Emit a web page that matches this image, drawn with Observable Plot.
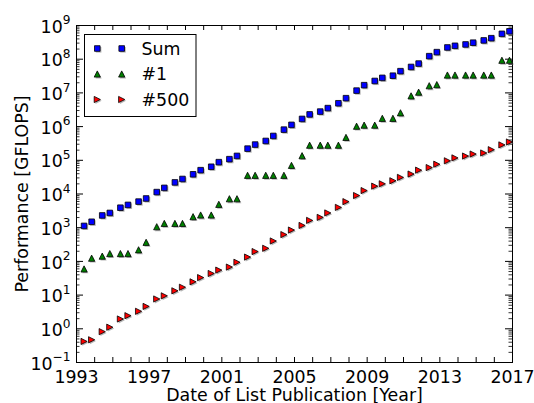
<!DOCTYPE html>
<html><head><meta charset="utf-8">
<script src="https://cdn.jsdelivr.net/npm/d3@7"></script>
<script src="https://cdn.jsdelivr.net/npm/@observablehq/plot@0.6"></script>
<style>body{margin:0;background:#fff} #chart svg{display:block}</style>
</head><body><div id="chart"></div>
<script>
// ---- data (GFLOPS), TOP500 lists June/November ----
const listDates = [
 "1993-06","1993-11","1994-06","1994-11","1995-06","1995-11","1996-06","1996-11",
 "1997-06","1997-11","1998-06","1998-11","1999-06","1999-11","2000-06","2000-11",
 "2001-06","2001-11","2002-06","2002-11","2003-06","2003-11","2004-06","2004-11",
 "2005-06","2005-11","2006-06","2006-11","2007-06","2007-11","2008-06","2008-11",
 "2009-06","2009-11","2010-06","2010-11","2011-06","2011-11","2012-06","2012-11",
 "2013-06","2013-11","2014-06","2014-11","2015-06","2015-11","2016-06","2016-11"];
const sumGF = [1130,1500,2310,2740,3920,4750,5950,7360,11400,15200,22100,27900,38400,50900,64300,88100,
 108000,135000,222000,293000,375000,528000,813000,1127000,1690000,2300000,2790000,3540000,4920000,6970000,
 11700000,16950000,22600000,27950000,32400000,44160000,58880000,74200000,123000000,162000000,
 223000000,250000000,274000000,309000000,361000000,420000000,566700000,672000000];
const top1GF = [59.7,124.5,143.4,170.4,170.4,170.4,220.4,368.2,1068,1338,1338,1338,2121,2379,2379,4938,
 7226,7226,35860,35860,35860,35860,35860,70720,136800,280600,280600,280600,280600,478200,
 1026000,1105000,1105000,1759000,1759000,2566000,8162000,10510000,16320000,17590000,
 33860000,33860000,33860000,33860000,33860000,33860000,93010000,93010000];
const top500GF = [0.422,0.472,0.822,1.114,1.955,2.45,3.307,4.62,7.67,9.51,13.39,17.12,24.73,33.07,43.82,55.1,
 67.78,94.3,134.3,195.8,244.9,403.4,624,850.6,1166,1646,2026,2737,4005,5929,
 9000,12640,17090,20050,24670,31120,39100,50940,60820,76500,96620,117800,133700,153400,164700,206300,286100,349300];
const seriesNames = ["Sum","#1","#500"];
const seriesColors = ["#0000ff","#008000","#ff0000"];
const yearTicks = [1993,1994,1995,1996,1997,1998,1999,2000,2001,2002,2003,2004,2005,2006,2007,2008,2009,2010,2011,2012,2013,2014,2015,2016,2017];
const yearLabels = [1993,1997,2001,2005,2009,2013,2017];
const decadeExps = [-1,0,1,2,3,4,5,6,7,8,9];
const xLabel = "Date of List Publication [Year]";
const yLabel = "Performance [GFLOPS]";

// ---- helpers ----
const FS = 17.4;
const toYear = s => { const [y,m] = s.split("-").map(Number); return y + (m-1)/12; };
const majorY = decadeExps.map(e => Math.pow(10, e));
const minorY = [];
decadeExps.slice(0, -1).forEach(e => { for (let k = 2; k <= 9; k++) minorY.push(k * Math.pow(10, e)); });

function sym(kind) {
  return {draw(ctx, size) {
    const h = Math.sqrt(size / Math.PI);
    if (kind === "square") { ctx.moveTo(-h,-h); ctx.lineTo(h,-h); ctx.lineTo(h,h); ctx.lineTo(-h,h); ctx.closePath(); }
    else if (kind === "up") { ctx.moveTo(0,-h); ctx.lineTo(h,h); ctx.lineTo(-h,h); ctx.closePath(); }
    else { ctx.moveTo(h,0); ctx.lineTo(-h,h); ctx.lineTo(-h,-h); ctx.closePath(); }
  }};
}
const symbols = [sym("square"), sym("up"), sym("right")];
const radii = [2.8, 3.1, 3.1];
const seriesValues = [sumGF, top1GF, top500GF];

const W = 534, H = 403, mL = 76, mR = 22, mT = 25, mB = 41;
const frameW = W - mL - mR, frameH = H - mT - mB;

const dotMarks = [];
seriesValues.forEach((vals, si) => {
  const data = listDates.map((d, i) => ({x: toYear(d), y: vals[i]}));
  dotMarks.push(Plot.dot(data, {x: "x", y: "y", symbol: symbols[si], r: radii[si], fill: "#777", fillOpacity: 0.55, stroke: "none", dx: 1.3, dy: 1.3}));
  dotMarks.push(Plot.dot(data, {x: "x", y: "y", symbol: symbols[si], r: radii[si], fill: seriesColors[si], stroke: "black", strokeWidth: 0.8}));
});

const chart = Plot.plot({
  width: W, height: H,
  marginLeft: mL, marginRight: mR, marginTop: mT, marginBottom: mB,
  style: {fontFamily: "'DejaVu Sans', sans-serif", fontSize: FS + "px", background: "white", color: "black", overflow: "visible"},
  x: {domain: [1993, 2017], axis: null},
  y: {type: "log", domain: [0.1, 1e9], axis: null},
  marks: [
    Plot.tickX(yearTicks, {x: d => d, insetTop: frameH - 5, stroke: "black", strokeWidth: 1}),
    Plot.tickX(yearTicks, {x: d => d, insetBottom: frameH - 5, stroke: "black", strokeWidth: 1}),
    Plot.tickY(majorY, {y: d => d, insetRight: frameW - 7, stroke: "black", strokeWidth: 1}),
    Plot.tickY(majorY, {y: d => d, insetLeft: frameW - 7, stroke: "black", strokeWidth: 1}),
    Plot.tickY(minorY, {y: d => d, insetRight: frameW - 3.5, stroke: "black", strokeWidth: 0.8}),
    Plot.tickY(minorY, {y: d => d, insetLeft: frameW - 3.5, stroke: "black", strokeWidth: 0.8}),
    Plot.frame({stroke: "black", strokeWidth: 1}),
    Plot.axisX({ticks: yearLabels, tickFormat: d => String(d), tickSize: 0, tickPadding: 8, label: null, fill: "black", fontSize: FS}),
    Plot.axisY({ticks: majorY, tickFormat: d => { const e = Math.round(Math.log10(d)); return "10^" + (e < 0 ? "\u2212" + (-e) : e); }, tickSize: 0, tickPadding: 6, dy: 1.6, label: null, fill: "black", fontSize: FS}),
    ...dotMarks,
    Plot.text([xLabel], {text: d => d, frameAnchor: "bottom", lineAnchor: "middle", textAnchor: "middle", dy: 33.4, fill: "black", fontSize: FS}),
    Plot.text([yLabel], {text: d => d, frameAnchor: "left", lineAnchor: "middle", textAnchor: "middle", dx: -54, rotate: -90, fill: "black", fontSize: FS})
  ]
});
document.getElementById("chart").appendChild(chart);

// superscript exponents on y tick labels
d3.select(chart).selectAll('g[aria-label="y-axis tick label"] text').each(function() {
  const t = this.textContent;
  if (t.indexOf("^") < 0) return;
  const [b, e] = t.split("^");
  const s = d3.select(this);
  s.text(b);
  s.append("tspan").attr("dy", -8.3).attr("font-size", 12.2).text(e);
});

// legend
const lg = d3.select(chart).append("g").attr("font-family", "'DejaVu Sans', sans-serif").attr("font-size", FS).attr("text-anchor", "start");
lg.append("rect").attr("x", 84.5).attr("y", 34.5).attr("width", 111.5).attr("height", 82)
  .attr("fill", "white").attr("stroke", "black").attr("stroke-width", 1);
seriesNames.forEach((name, i) => {
  const cy = 48.5 + i * 25.5;
  const path = d3.symbol(symbols[i], radii[i] * radii[i] * Math.PI)();
  [97.3, 121.7].forEach(cx => {
    lg.append("path").attr("d", path).attr("transform", `translate(${cx + 1.3},${cy + 1.3})`).attr("fill", "#777").attr("fill-opacity", 0.55);
    lg.append("path").attr("d", path).attr("transform", `translate(${cx},${cy})`).attr("fill", seriesColors[i]).attr("stroke", "black").attr("stroke-width", 0.8);
  });
  lg.append("text").attr("x", 141.5).attr("y", cy).attr("dy", "0.36em").attr("text-anchor", "start").attr("fill", "black").text(name);
});
</script>
</body></html>
